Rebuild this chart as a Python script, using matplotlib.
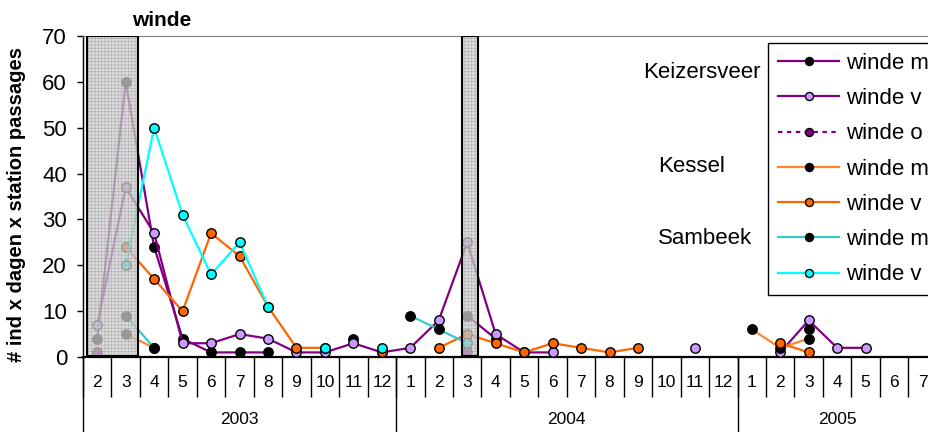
import matplotlib
matplotlib.use("Agg")
import matplotlib.pyplot as plt
import matplotlib.transforms as mtransforms
import numpy as np
from matplotlib.patches import Rectangle

plt.rcParams["font.family"] = ["Liberation Sans", "DejaVu Sans"]
plt.rcParams["hatch.linewidth"] = 0.3

nan = np.nan

# months on the category axis, grouped per year
months = [str(m) for m in range(2, 13)] + [str(m) for m in range(1, 13)] + [str(m) for m in range(1, 8)]
years = ["2003", "2004", "2005"]
year_sizes = [11, 12, 7]

# Keizersveer
kv_m = [4, 60, 24, 4, 1, 1, 1, nan, nan, 4, nan,
        nan, nan, 9, 4, nan, nan, nan, nan, nan, nan, nan, nan,
        nan, nan, 6, nan, nan, nan, nan]
kv_v = [7, 37, 27, 3, 3, 5, 4, 1, 1, 3, 1,
        2, 8, 25, 5, 1, 1, nan, nan, nan, nan, 2, nan,
        nan, 1, 8, 2, 2, nan, nan]
kv_o = [1, nan, nan, nan, nan, nan, nan, nan, nan, nan, nan,
        nan, nan, 1, nan, nan, nan, nan, nan, nan, nan, nan, nan,
        nan, nan, nan, nan, nan, nan, nan]
# Kessel
ks_m = [nan, 5, 2, nan, nan, nan, nan, nan, nan, nan, nan,
        nan, nan, nan, nan, nan, nan, nan, nan, nan, nan, nan, nan,
        6, 2, 4, nan, nan, nan, nan]
ks_v = [nan, 24, 17, 10, 27, 22, 11, 2, 2, nan, 1,
        nan, 2, 5, 3, 1, 3, 2, 1, 2, nan, nan, nan,
        nan, 3, 1, nan, nan, nan, nan]
# Sambeek
sb_m = [nan, 9, 2, nan, nan, nan, nan, nan, nan, nan, nan,
        9, 6, 3, nan, nan, nan, nan, nan, nan, nan, nan, nan,
        nan, nan, nan, nan, nan, nan, nan]
sb_v = [nan, 20, 50, 31, 18, 25, 11, nan, 2, nan, 2,
        nan, nan, 3, nan, nan, nan, nan, nan, nan, nan, nan, nan,
        nan, nan, nan, nan, nan, nan, nan]

# shaded periods (category-axis spans)
shaded = [(-0.37, 1.43), (12.8, 13.38)]

x = np.arange(len(months))

fig = plt.figure(figsize=(9.29, 4.32), dpi=100)
ax = fig.add_axes([83 / 929, 75 / 432, 853.8 / 929, 321 / 432])

purple = "#800080"
series = [
    (kv_m, purple, "black", "-", "winde m"),
    (kv_v, purple, "#CC99FF", "-", "winde v"),
    (kv_o, purple, purple, (0, (2, 2)), "winde o"),
    (ks_m, "#FF8533", "black", "-", "winde m"),
    (ks_v, "#FF6600", "#FF6600", "-", "winde v"),
    (sb_m, "#33CCCC", "black", "-", "winde m"),
    (sb_v, "#00FFFF", "#00FFFF", "-", "winde v"),
]
handles = []
for i, (vals, lc, fc, ls, lab) in enumerate(series):
    h, = ax.plot(x, vals, color=lc, linestyle=ls, linewidth=1.6, marker="o",
                 markersize=6.8, markerfacecolor=fc, markeredgecolor="black",
                 markeredgewidth=1.0, label=lab, zorder=3 + i)
    handles.append(h)

for x0, x1 in shaded:
    ax.add_patch(Rectangle((x0, 0.3), x1 - x0, 69.7, facecolor="#d0d0d0",
                           edgecolor="#8c8c8c", hatch="+++++", linewidth=0,
                           alpha=0.75, zorder=20))
    ax.add_patch(Rectangle((x0, 0.3), x1 - x0, 69.7, fill=False,
                           edgecolor="black", linewidth=1.5, zorder=21))

ax.set_xlim(-0.5, 29.5)
ax.set_ylim(0, 70)
ax.set_yticks(range(0, 71, 10))
ax.tick_params(axis="y", labelsize=16, length=4.5, width=1, pad=7)

ax.set_xticks(x)
ax.set_xticklabels(months)
ax.tick_params(axis="x", which="major", length=0, labelsize=12.5, pad=13)
ax.set_xticks(np.arange(-0.5, 30, 1), minor=True)
ax.tick_params(axis="x", which="minor", length=29, width=1, color="black")

ax.spines["right"].set_visible(False)
ax.spines["top"].set_color("#808080")
ax.spines["left"].set_linewidth(1)
ax.spines["bottom"].set_linewidth(1.6)

# year grouping row under the month labels
trans = mtransforms.blended_transform_factory(ax.transData, ax.transAxes)
edges = np.concatenate([[0], np.cumsum(year_sizes)]) - 0.5
for e in edges:
    ax.plot([e, e], [0, -0.24], transform=trans, color="black", lw=1, clip_on=False)
for y, a, b in zip(years, edges[:-1], edges[1:]):
    ax.text((a + b) / 2, -0.196, y, transform=trans, ha="center", va="center", fontsize=12.5)

fig.text(17 / 929, 1 - 205 / 432, "# ind x dagen x station passages", rotation=90,
         ha="center", va="center", fontsize=14.5, fontweight="bold")
fig.text(162 / 929, 1 - 21 / 432, "winde", ha="center", va="center",
         fontsize=15, fontweight="bold")

fig.text(643 / 929, 1 - 72 / 432, "Keizersveer", ha="left", va="center", fontsize=16)
fig.text(658 / 929, 1 - 167 / 432, "Kessel", ha="left", va="center", fontsize=16)
fig.text(658 / 929, 1 - 238 / 432, "Sambeek", ha="left", va="center", fontsize=16)

leg = ax.legend(handles, [h.get_label() for h in handles], loc="upper left",
                bbox_to_anchor=(768 / 929, 1 - 43 / 432), bbox_transform=fig.transFigure,
                fancybox=False, edgecolor="black", framealpha=1, fontsize=16,
                handlelength=2.75, handletextpad=0.3, labelspacing=0.64,
                borderpad=0.45, borderaxespad=0, markerscale=0.85)
leg.get_frame().set_linewidth(1)
leg.set_zorder(30)

fig.savefig("out.png", dpi=100)
